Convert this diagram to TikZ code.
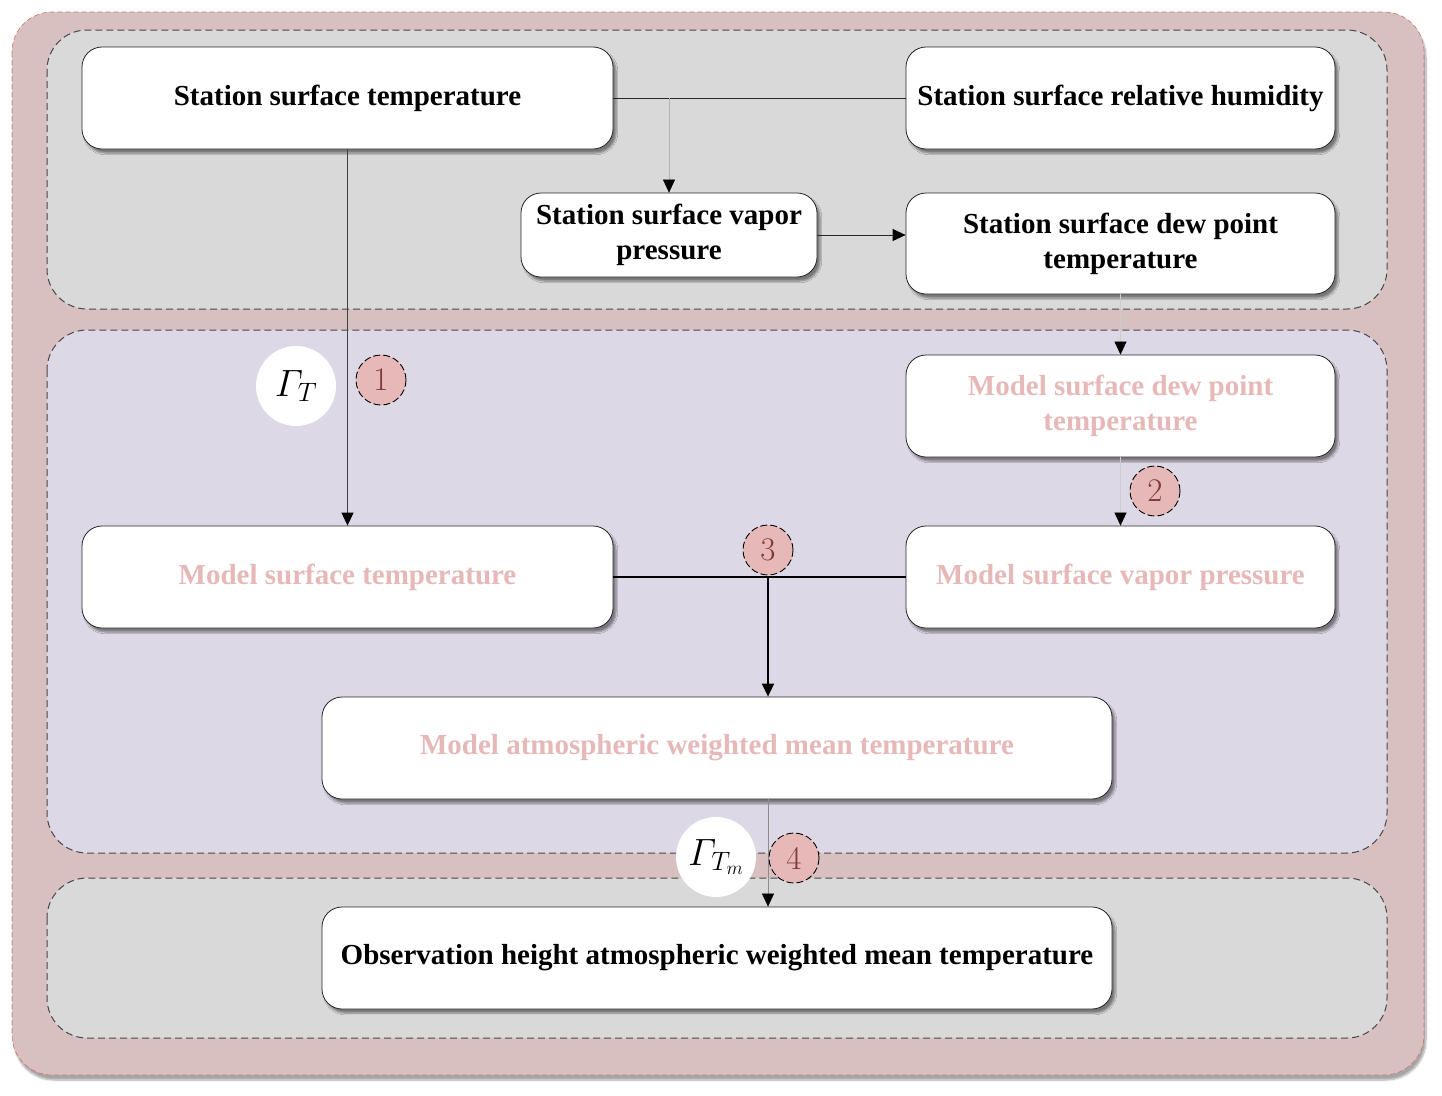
\RequirePackage{fix-cm}
\documentclass[tikz,border=0pt]{standalone}
\usepackage{amsmath}
\usepackage[no-math]{fontspec}
\newfontfamily\tnr{Liberation Serif}
\usetikzlibrary{arrows.meta,shadows.blur}
\definecolor{outerpink}{RGB}{217,192,192}
\definecolor{outerline}{RGB}{192,80,77}
\definecolor{panelgray}{RGB}{217,217,217}
\definecolor{panellav}{RGB}{221,216,230}
\definecolor{pinktxt}{RGB}{230,184,183}
\definecolor{numcol}{RGB}{128,58,58}
\begin{document}
\begin{tikzpicture}[x=1pt,y=-1pt,
  box/.style={draw=black!85, line width=0.8pt, fill=white, rounded corners=20pt,
    align=center, inner sep=0pt,
    font=\tnr\bfseries\fontsize{29}{35}\selectfont,
    blur shadow={shadow xshift=3pt, shadow yshift=-4pt, shadow opacity=45, shadow blur steps=6}},
  wide/.style={minimum width=531pt, minimum height=102pt},
  mid/.style={minimum width=429pt, minimum height=102pt},
  long/.style={minimum width=790pt, minimum height=102pt},
  model/.style={text=pinktxt},
  outerbox/.style={fill=outerpink, draw=outerline!80, dashed, dash pattern=on 5pt off 3pt,
    line width=0.6pt, rounded corners=40pt,
    blur shadow={shadow xshift=2pt, shadow yshift=-5pt, shadow opacity=35, shadow blur steps=8}},
  panel/.style={draw=black!72, dash pattern=on 7pt off 4pt, line width=1pt, rounded corners=40pt},
  arr/.style={-{Triangle[width=12pt,length=13pt,color=black]}},
  numc/.style={circle, draw=black, dash pattern=on 7pt off 3pt, line width=0.9pt, fill=pinktxt,
    minimum size=50pt, inner sep=0pt, text=numcol, font=\fontsize{33}{33}\selectfont},
  gam/.style={circle, fill=white, minimum size=80pt, inner sep=0pt, font=\fontsize{38}{38}\selectfont}
]
\useasboundingbox (0,0) rectangle (1442,1095);
% background frames
\path[outerbox] (12,12) rectangle (1424,1075);
\path[panel, fill=panelgray] (47,30) rectangle (1387,309);
\path[panel, fill=panellav] (47,330) rectangle (1387,853);
\path[panel, fill=panelgray] (47,878) rectangle (1387,1038);

% nodes
\node[box, wide] (A) at (347.5,98) {Station surface temperature};
\node[box, mid] (B) at (1120.5,98) {Station surface relative humidity};
\node[box, minimum width=296pt, minimum height=84pt] (C) at (669,235) {Station surface vapor\\pressure};
\node[box, mid, minimum height=101pt] (D) at (1120.5,243.5) {Station surface dew point\\temperature};
\node[box, mid, model] (E) at (1120.5,406) {Model surface dew point\\temperature};
\node[box, mid, model] (F) at (1120.5,577) {Model surface vapor pressure};
\node[box, wide, model] (G) at (347.5,577) {Model surface temperature};
\node[box, long, model] (H) at (717,748) {Model atmospheric weighted mean temperature};
\node[box, long] (I) at (717,958) {Observation height atmospheric weighted mean temperature};

% connectors
\draw[line width=0.9pt, black!85] (A.east) -- (B.west);
\draw[arr, line width=0.6pt, black!30] (A.east -| C.north) -- (C.north);
\draw[arr, line width=0.9pt, black!75] (A.south) -- (G.north);
\draw[arr, line width=0.9pt, black!85] (C.east) -- (C.east -| D.west);
\draw[arr, line width=0.5pt, black!20] (D.south) -- (E.north);
\draw[arr, line width=0.5pt, black!20] (E.south) -- (F.north);
\draw[line width=1.5pt] (G.east) -- (F.west);
\coordinate (j3) at (768,577);
\draw[arr, line width=1.5pt] (j3) -- (j3 |- H.north);
\draw[arr, line width=0.6pt, black!45] (j3 |- H.south) -- (j3 |- I.north);

% labels
\node[gam] (g1) at (296,386) {$\varGamma_{T}$};
\node[numc] (n1) at (381,380) {1};
\node[numc] (n2) at (1155,491) {2};
\node[numc] (n3) at (768,550) {3};
\node[gam] (g2) at (716,857) {$\varGamma_{T_m}$};
\node[numc] (n4) at (794,858) {4};
\end{tikzpicture}
\end{document}
